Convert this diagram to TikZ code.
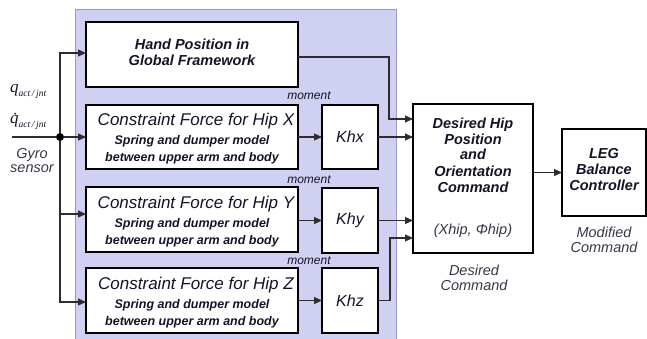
\documentclass[tikz,border=0pt]{standalone}
\usepackage{fontspec}
\setmainfont{Liberation Sans}
\newfontfamily\symfont{Liberation Serif}
\usetikzlibrary{arrows.meta,calc}

\definecolor{panelfill}{RGB}{208,208,242}
\definecolor{paneledge}{RGB}{150,150,228}
\definecolor{wire}{RGB}{45,45,45}
\definecolor{ink}{RGB}{20,20,40}
\definecolor{note}{RGB}{55,55,72}

% joint variable with its subscript, set in the serif face
\newcommand{\jointsub}{\raisebox{-3.5pt}{\fontsize{9.5}{9.5}\selectfont act\,/\,jnt}}

\tikzset{
  blk/.style={draw=black, line width=1.2pt, fill=white, inner sep=0pt, outer sep=0pt},
  panel/.style={draw=paneledge, line width=1pt, fill=panelfill, inner sep=0pt, outer sep=0pt},
  wire/.style={draw=wire, line width=1.2pt},
  flow/.style={wire, -{Triangle[length=8pt,width=7pt]}},
  cftitle/.style={anchor=base, text=ink, font=\fontsize{17}{17}\selectfont\itshape},
  cfsub/.style={anchor=base, text=ink, font=\fontsize{12.5}{12.5}\selectfont\bfseries\itshape},
  gain/.style={text=ink, font=\fontsize{16}{16}\selectfont\itshape},
  moment/.style={anchor=base, text=ink, font=\fontsize{12}{12}\selectfont\itshape},
  head/.style={anchor=base, text=ink, font=\fontsize{14.5}{14.5}\selectfont\bfseries\itshape},
  caption/.style={anchor=base, text=note, font=\fontsize{14.5}{14.5}\selectfont\itshape},
  joint/.style={anchor=base west, text=ink, inner sep=0pt, font=\symfont\fontsize{17}{17}\selectfont\itshape},
}

\begin{document}
\begin{tikzpicture}[x=1pt, y=-1pt]
\useasboundingbox (0,0) rectangle (647,339);

% shaded block that groups the hand and hip constraint computations
\node[panel, minimum width=321pt, minimum height=332pt] (grp) at (235.5,176) {};

% blocks
\node[blk, minimum width=212pt, minimum height=65pt] (hand) at (192,54.5) {};
\node[blk, minimum width=212pt, minimum height=64pt] (cfx) at (192,137) {};
\node[blk, minimum width=212pt, minimum height=65pt] (cfy) at (192,219.5) {};
\node[blk, minimum width=212pt, minimum height=65pt] (cfz) at (192,300.5) {};
\node[blk, minimum width=56pt, minimum height=64pt] (khx) at (350,137) {};
\node[blk, minimum width=56pt, minimum height=65pt] (khy) at (350,220.5) {};
\node[blk, minimum width=56pt, minimum height=65pt] (khz) at (350,300.5) {};
\node[blk, minimum width=120pt, minimum height=149pt] (des) at (473,178.5) {};
\node[blk, minimum width=84pt, minimum height=87pt] (leg) at (604,172.5) {};

% block texts
\node[head] (handA) at (192,50) {Hand Position in};
\node[head] (handB) at (192,66) {Global Framework};

\node[cftitle] (cfxT) at (196,126) {Constraint Force for Hip X};
\node[cfsub] (cfxA) at (192,145) {Spring and dumper model};
\node[cfsub] (cfxB) at (192,162) {between upper arm and body};

\node[cftitle] (cfyT) at (196,208) {Constraint Force for Hip Y};
\node[cfsub] (cfyA) at (192,227) {Spring and dumper model};
\node[cfsub] (cfyB) at (192,244) {between upper arm and body};

\node[cftitle] (cfzT) at (196,289) {Constraint Force for Hip Z};
\node[cfsub] (cfzA) at (192,308) {Spring and dumper model};
\node[cfsub] (cfzB) at (192,325) {between upper arm and body};

\node[gain] (khxT) at (khx) {Khx};
\node[gain] (khyT) at (khy) {Khy};
\node[gain] (khzT) at (khz) {Khz};

\node[moment] (mx) at (309,100) {moment};
\node[moment] (my) at (309,183) {moment};
\node[moment] (mz) at (309,264) {moment};

\node[head] (desA) at (473,129) {Desired Hip};
\node[head] (desB) at (473,145) {Position};
\node[head] (desC) at (473,160) {and};
\node[head] (desD) at (473,176) {Orientation};
\node[head] (desE) at (473,192) {Command};
\node[caption] (desF) at (473,234) {(Xhip, Φhip)};

\node[head] (legA) at (604,159) {LEG};
\node[head] (legB) at (604,175) {Balance};
\node[head] (legC) at (604,190) {Controller};

\node[caption] (dcA) at (474,275) {Desired};
\node[caption] (dcB) at (474,290) {Command};
\node[caption] (mcA) at (604,237) {Modified};
\node[caption] (mcB) at (604,252) {Command};

% sensor inputs
\node[joint] (q) at (10,93) {q\jointsub};
\node[joint] (qd) at (10,124) {\.{q}\jointsub};
\node[caption] (gyA) at (32,159) {Gyro};
\node[caption] (gyB) at (32,172) {sensor};

% branch point feeding all four blocks
\coordinate (src) at (12,137);
\node[circle, fill=black, inner sep=0pt, minimum size=8pt] (dot) at (60,137) {};
\draw[wire] (src) -- (dot);
\draw[flow] (dot) -- (cfx.west);
\draw[flow] (dot) |- ([yshift=1.5pt]hand.west);
\draw[flow] (dot) |- ([yshift=5.5pt]cfy.west);
\draw[flow] (dot) |- ([yshift=-1.5pt]cfz.west);

% constraint forces through the gains
\draw[flow] (cfx.east) -- (khx.west);
\draw[flow] (cfy.east |- khy.west) -- (khy.west);
\draw[flow] (cfz.east) -- (khz.west);

% inputs of the hip command block
\coordinate (dIn1) at ($(des.north west)+(0,15)$);
\coordinate (dIn4) at ($(des.north west)+(0,134)$);
\draw[flow] ([yshift=-2.5pt]hand.east) -- ++(91,0) |- (dIn1);
\draw[flow] (khx.east) -- (khx.east -| des.west);
\draw[flow] (khy.east) -- (khy.east -| des.west);
\draw[flow] (khz.east) -- ++(12,0) |- (dIn4);

% hip command to the leg controller
\draw[flow] (des.east |- leg.west) -- (leg.west);
\end{tikzpicture}
\end{document}
